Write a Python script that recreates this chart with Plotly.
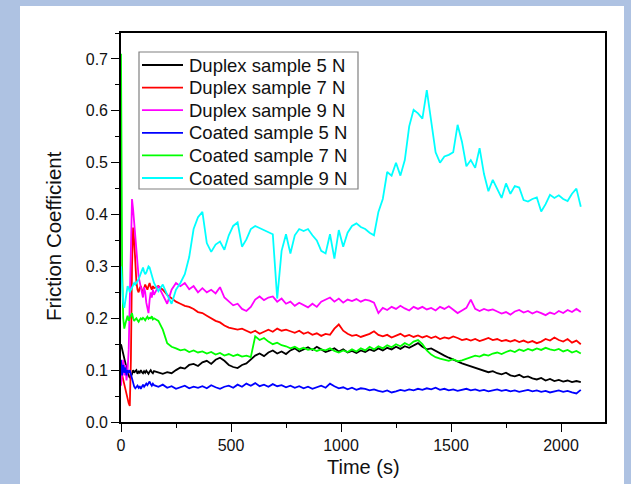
import plotly.graph_objects as go

# Sampling times (s): dense during run-in, then every 20 s
time_early = list(range(0, 151, 5))
time_late = list(range(170, 2091, 20))
time_s = time_early + time_late

duplex_5n = [
    # 0-150 s
    0.150, 0.140, 0.130, 0.120, 0.110, 0.100, 0.095, 0.090, 0.085, 0.088,
    0.092, 0.100, 0.095, 0.098, 0.100, 0.093, 0.097, 0.095, 0.100, 0.096,
    0.094, 0.098, 0.095, 0.099, 0.096, 0.093, 0.097, 0.100, 0.096, 0.094,
    0.098,
    # 170-2090 s
    0.095, 0.093, 0.096, 0.094, 0.100, 0.105, 0.103, 0.110, 0.112, 0.108,
    0.115, 0.118, 0.112, 0.120, 0.124, 0.118, 0.110, 0.106, 0.104, 0.110,
    0.113, 0.120, 0.128, 0.132, 0.127, 0.134, 0.138, 0.132, 0.136, 0.131,
    0.138, 0.142, 0.136, 0.140, 0.144, 0.139, 0.145, 0.140, 0.135, 0.138,
    0.142, 0.136, 0.140, 0.134, 0.137, 0.133, 0.138, 0.135, 0.140, 0.137,
    0.142, 0.138, 0.143, 0.140, 0.145, 0.141, 0.146, 0.143, 0.148, 0.152,
    0.145, 0.140, 0.142, 0.137, 0.132, 0.128, 0.124, 0.120, 0.117, 0.113,
    0.110, 0.107, 0.104, 0.101, 0.099, 0.096, 0.098, 0.094, 0.092, 0.095,
    0.090, 0.088, 0.091, 0.086, 0.088, 0.084, 0.082, 0.085, 0.080, 0.083,
    0.079, 0.081, 0.078, 0.080, 0.077, 0.079, 0.077,
]

duplex_7n = [
    0.100, 0.090, 0.080, 0.070, 0.060, 0.050, 0.042, 0.036, 0.031, 0.120,
    0.300, 0.375, 0.350, 0.300, 0.270, 0.255, 0.250, 0.258, 0.262, 0.255,
    0.250, 0.258, 0.265, 0.260, 0.255, 0.262, 0.268, 0.260, 0.255, 0.262,
    0.258,
    0.262, 0.255, 0.245, 0.238, 0.232, 0.228, 0.224, 0.222, 0.218, 0.212,
    0.210, 0.205, 0.200, 0.195, 0.192, 0.186, 0.182, 0.180, 0.178, 0.180,
    0.176, 0.172, 0.176, 0.170, 0.174, 0.178, 0.174, 0.180, 0.176, 0.178,
    0.175, 0.172, 0.176, 0.170, 0.173, 0.168, 0.171, 0.166, 0.170, 0.168,
    0.180, 0.188, 0.176, 0.170, 0.166, 0.168, 0.164, 0.167, 0.170, 0.175,
    0.168, 0.165, 0.168, 0.163, 0.166, 0.170, 0.165, 0.168, 0.164, 0.167,
    0.163, 0.166, 0.162, 0.165, 0.160, 0.163, 0.161, 0.165, 0.162, 0.158,
    0.160, 0.157, 0.160, 0.156, 0.159, 0.162, 0.158, 0.160, 0.156, 0.158,
    0.155, 0.158, 0.154, 0.157, 0.153, 0.156, 0.152, 0.155, 0.160, 0.157,
    0.163, 0.158, 0.155, 0.160, 0.153, 0.157, 0.150,
]

duplex_9n = [
    0.070, 0.100, 0.120, 0.090, 0.110, 0.080, 0.100, 0.140, 0.250, 0.380,
    0.430, 0.410, 0.380, 0.350, 0.320, 0.300, 0.280, 0.270, 0.260, 0.250,
    0.240, 0.260, 0.250, 0.230, 0.215, 0.210, 0.235, 0.250, 0.240, 0.255,
    0.245,
    0.262, 0.245, 0.228, 0.255, 0.268, 0.262, 0.268, 0.256, 0.262, 0.250,
    0.258, 0.250, 0.255, 0.248, 0.260, 0.240, 0.232, 0.225, 0.228, 0.218,
    0.214, 0.222, 0.236, 0.242, 0.235, 0.240, 0.242, 0.232, 0.238, 0.228,
    0.232, 0.224, 0.230, 0.226, 0.221, 0.228, 0.222, 0.232, 0.236, 0.240,
    0.232, 0.238, 0.230, 0.236, 0.233, 0.237, 0.232, 0.236, 0.234, 0.230,
    0.210, 0.220, 0.216, 0.222, 0.218, 0.224, 0.219, 0.215, 0.222, 0.218,
    0.222, 0.217, 0.220, 0.215, 0.222, 0.218, 0.223, 0.216, 0.210, 0.215,
    0.220, 0.236, 0.218, 0.214, 0.218, 0.215, 0.217, 0.213, 0.209, 0.212,
    0.207, 0.213, 0.216, 0.211, 0.214, 0.209, 0.213, 0.210, 0.206, 0.211,
    0.208, 0.214, 0.210, 0.216, 0.212, 0.218, 0.212,
]

coated_5n = [
    0.120, 0.090, 0.110, 0.095, 0.105, 0.090, 0.100, 0.095, 0.100, 0.092,
    0.088, 0.075, 0.068, 0.065, 0.067, 0.070, 0.066, 0.069, 0.064, 0.068,
    0.072, 0.068, 0.070, 0.074, 0.071, 0.076, 0.078, 0.073, 0.070, 0.074,
    0.071,
    0.068, 0.072, 0.066, 0.069, 0.064, 0.067, 0.070, 0.065, 0.068, 0.066,
    0.069, 0.065, 0.071, 0.067, 0.064, 0.068, 0.070, 0.066, 0.072, 0.068,
    0.074, 0.070, 0.075, 0.069, 0.072, 0.068, 0.073, 0.069, 0.071, 0.067,
    0.070, 0.066, 0.069, 0.065, 0.068, 0.064, 0.067, 0.070, 0.066, 0.074,
    0.069, 0.065, 0.067, 0.063, 0.066, 0.062, 0.065, 0.064, 0.061, 0.063,
    0.060, 0.058, 0.061, 0.057, 0.059, 0.062, 0.060, 0.063, 0.061, 0.064,
    0.062, 0.065, 0.063, 0.066, 0.062, 0.064, 0.061, 0.063, 0.060, 0.062,
    0.064, 0.061, 0.063, 0.060, 0.062, 0.059, 0.061, 0.063, 0.060, 0.062,
    0.059, 0.061, 0.058, 0.060, 0.062, 0.059, 0.061, 0.058, 0.060, 0.057,
    0.059, 0.061, 0.058, 0.060, 0.057, 0.055, 0.062,
]

coated_7n = [
    0.710, 0.300, 0.200, 0.180, 0.190, 0.200, 0.205, 0.195, 0.200, 0.205,
    0.210, 0.200, 0.195, 0.198, 0.200, 0.196, 0.193, 0.197, 0.200, 0.198,
    0.201, 0.199, 0.196, 0.200, 0.203, 0.199, 0.201, 0.200, 0.204, 0.198,
    0.200,
    0.195, 0.178, 0.152, 0.145, 0.142, 0.138, 0.140, 0.135, 0.138, 0.134,
    0.136, 0.132, 0.135, 0.130, 0.133, 0.128, 0.131, 0.127, 0.130, 0.126,
    0.128, 0.125, 0.165, 0.158, 0.162, 0.155, 0.150, 0.153, 0.148, 0.146,
    0.142, 0.145, 0.140, 0.143, 0.139, 0.141, 0.137, 0.140, 0.138, 0.142,
    0.137, 0.134, 0.138, 0.135, 0.140, 0.136, 0.142, 0.138, 0.145, 0.140,
    0.146, 0.142, 0.148, 0.144, 0.150, 0.146, 0.152, 0.148, 0.155, 0.158,
    0.150, 0.138, 0.130, 0.125, 0.122, 0.120, 0.118, 0.121, 0.117, 0.119,
    0.122, 0.125, 0.128, 0.126, 0.130, 0.128, 0.132, 0.134, 0.131, 0.135,
    0.138, 0.135, 0.140, 0.137, 0.141, 0.138, 0.142, 0.139, 0.143, 0.140,
    0.138, 0.141, 0.136, 0.139, 0.134, 0.137, 0.132,
]

coated_9n = [
    0.300, 0.260, 0.230, 0.220, 0.235, 0.250, 0.262, 0.258, 0.250, 0.255,
    0.260, 0.265, 0.268, 0.265, 0.270, 0.272, 0.275, 0.280, 0.285, 0.292,
    0.298, 0.290, 0.285, 0.288, 0.295, 0.300, 0.298, 0.290, 0.282, 0.275,
    0.268,
    0.252, 0.265, 0.245, 0.228, 0.255, 0.268, 0.285, 0.318, 0.372, 0.395,
    0.405, 0.345, 0.328, 0.342, 0.348, 0.332, 0.360, 0.378, 0.385, 0.338,
    0.352, 0.372, 0.378, 0.374, 0.370, 0.365, 0.362, 0.238, 0.330, 0.362,
    0.325, 0.360, 0.372, 0.368, 0.372, 0.360, 0.350, 0.330, 0.325, 0.362,
    0.315, 0.370, 0.338, 0.365, 0.378, 0.383, 0.376, 0.372, 0.365, 0.360,
    0.405, 0.430, 0.482, 0.475, 0.500, 0.475, 0.505, 0.570, 0.602, 0.595,
    0.585, 0.640, 0.580, 0.520, 0.500, 0.512, 0.515, 0.520, 0.573, 0.540,
    0.493, 0.505, 0.490, 0.528, 0.478, 0.445, 0.467, 0.450, 0.432, 0.460,
    0.440, 0.455, 0.452, 0.428, 0.425, 0.430, 0.433, 0.406, 0.420, 0.438,
    0.432, 0.437, 0.430, 0.426, 0.440, 0.450, 0.415,
]

series_names = [
    "Duplex sample 5 N", "Duplex sample 7 N", "Duplex sample 9 N",
    "Coated sample 5 N", "Coated sample 7 N", "Coated sample 9 N",
]
series_values = [duplex_5n, duplex_7n, duplex_9n, coated_5n, coated_7n, coated_9n]
series_colors = ["#000000", "#FF0000", "#FF00FF", "#0000FF", "#00FF00", "#00FFFF"]

FONT = "Liberation Sans, Arial, sans-serif"
TEXT = "#111111"

# page geometry in pixels
W, H = 631, 484
PLOT_L, PLOT_R, PLOT_T, PLOT_B = 121, 605, 33, 422


def px_x(px):
    return (px - PLOT_L) / (PLOT_R - PLOT_L)


def px_y(py):
    return (PLOT_B - py) / (PLOT_B - PLOT_T)


fig = go.Figure()
for name, vals, color in zip(series_names, series_values, series_colors):
    fig.add_trace(go.Scatter(
        x=time_s, y=vals, name=name, mode="lines",
        line=dict(color=color, width=1.8), showlegend=False,
    ))

shapes = [
    # white card on the blue page
    dict(type="rect", xref="paper", yref="paper",
         x0=px_x(20), x1=px_x(624), y0=px_y(H + 20), y1=px_y(6),
         fillcolor="white", line=dict(width=0), layer="below"),
    # legend frame
    dict(type="rect", xref="paper", yref="paper",
         x0=px_x(139), x1=px_x(358), y0=px_y(189), y1=px_y(52),
         fillcolor="white", line=dict(color="#808080", width=1.2), layer="above"),
]
annotations = []
row_y = [65, 87.6, 110.2, 132.8, 155.4, 178]
for name, color, ry in zip(series_names, series_colors, row_y):
    shapes.append(dict(type="line", xref="paper", yref="paper",
                       x0=px_x(142), x1=px_x(183), y0=px_y(ry), y1=px_y(ry),
                       line=dict(color=color, width=1.8), layer="above"))
    annotations.append(dict(text=name, xref="paper", yref="paper",
                            x=px_x(187), y=px_y(ry), xanchor="left", yanchor="middle",
                            showarrow=False, font=dict(family=FONT, size=18.5, color=TEXT)))

# axis titles
annotations.append(dict(text="Time (s)", xref="paper", yref="paper",
                        x=px_x(363), y=px_y(467), xanchor="center", yanchor="middle",
                        showarrow=False, font=dict(family=FONT, size=20, color=TEXT)))
annotations.append(dict(text="Friction Coefficient", xref="paper", yref="paper",
                        x=px_x(54), y=px_y(236), xanchor="center", yanchor="middle",
                        textangle=-90, showarrow=False,
                        font=dict(family=FONT, size=20.5, color=TEXT)))

axis_common = dict(
    showgrid=False, zeroline=False, showline=True, linecolor="black",
    linewidth=1.6, mirror=True, ticks="outside", ticklen=8, tickwidth=1.4,
    tickcolor="black", tickfont=dict(family=FONT, size=16, color=TEXT),
    automargin=False,
)

fig.update_xaxes(
    range=[0, 2200], tickvals=[0, 500, 1000, 1500, 2000],
    minor=dict(dtick=250, tick0=0, ticks="outside", ticklen=4, tickwidth=1.4, tickcolor="black"),
    **axis_common,
)
fig.update_yaxes(
    range=[0, 0.75], tickvals=[0, 0.1, 0.2, 0.3, 0.4, 0.5, 0.6, 0.7],
    tickformat=".1f",
    minor=dict(dtick=0.05, tick0=0, ticks="outside", ticklen=4, tickwidth=1.4, tickcolor="black"),
    **axis_common,
)

fig.update_layout(
    width=W, height=H,
    margin=dict(l=PLOT_L, r=W - PLOT_R, t=PLOT_T, b=H - PLOT_B, autoexpand=False),
    paper_bgcolor="#AEC2E2", plot_bgcolor="white",
    showlegend=False,
    shapes=shapes, annotations=annotations,
)

fig.write_html("out.html")
